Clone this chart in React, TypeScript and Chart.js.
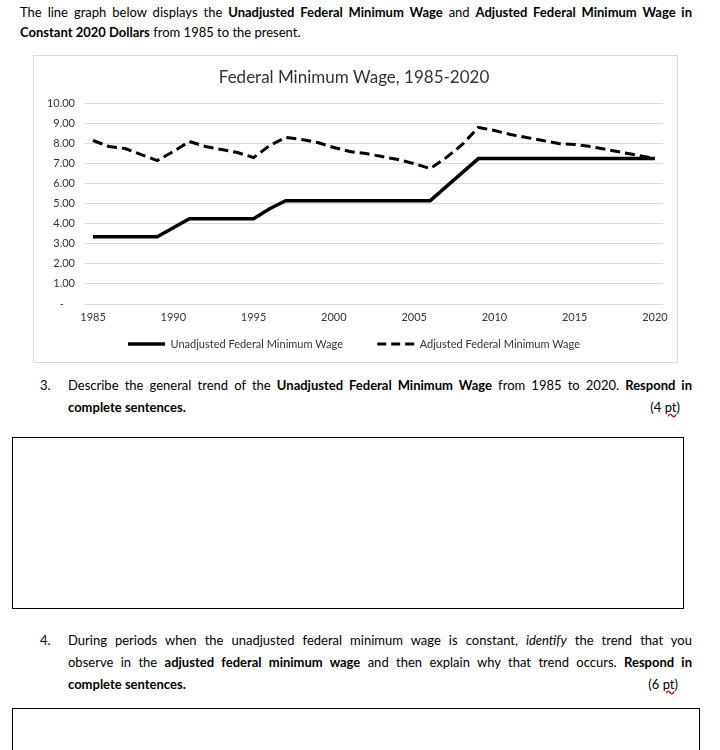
import React, { useEffect, useRef } from "react";
import { Chart, registerables } from "chart.js";

Chart.register(...registerables);

const years = [
  "1985", "1986", "1987", "1988", "1989", "1990", "1991", "1992", "1993",
  "1994", "1995", "1996", "1997", "1998", "1999", "2000", "2001", "2002",
  "2003", "2004", "2005", "2006", "2007", "2008", "2009", "2010", "2011",
  "2012", "2013", "2014", "2015", "2016", "2017", "2018", "2019", "2020",
];

const unadjustedWage = [
  3.35, 3.35, 3.35, 3.35, 3.35, 3.8, 4.25, 4.25, 4.25, 4.25, 4.25, 4.75,
  5.15, 5.15, 5.15, 5.15, 5.15, 5.15, 5.15, 5.15, 5.15, 5.15, 5.85, 6.55,
  7.25, 7.25, 7.25, 7.25, 7.25, 7.25, 7.25, 7.25, 7.25, 7.25, 7.25, 7.25,
];

const adjustedWage = [
  8.15, 7.85, 7.75, 7.45, 7.15, 7.6, 8.1, 7.85, 7.7, 7.55, 7.3, 7.9,
  8.3, 8.2, 8.05, 7.8, 7.6, 7.5, 7.35, 7.2, 7.0, 6.75, 7.3, 7.95,
  8.8, 8.65, 8.45, 8.3, 8.15, 8.0, 7.95, 7.85, 7.7, 7.55, 7.4, 7.25,
];

const labeledYears = ["1985", "1990", "1995", "2000", "2005", "2010", "2015", "2020"];
const seriesNames = ["Unadjusted Federal Minimum Wage", "Adjusted Federal Minimum Wage"];
const chartTitle = "Federal Minimum Wage, 1985-2020";

const textColor = "#333333";

function WageChart() {
  const ref = useRef<HTMLCanvasElement>(null);
  useEffect(() => {
    const font = { family: "Lato", size: 11 };
    const chart = new Chart(ref.current as HTMLCanvasElement, {
      type: "line",
      data: {
        labels: years,
        datasets: [
          {
            label: seriesNames[0],
            data: unadjustedWage,
            borderColor: "#000000",
            backgroundColor: "#000000",
            borderWidth: 3.5,
            pointRadius: 0,
            tension: 0,
            fill: false,
          },
          {
            label: seriesNames[1],
            data: adjustedWage,
            borderColor: "#000000",
            backgroundColor: "#000000",
            borderWidth: 3,
            borderDash: [10, 5],
            pointRadius: 0,
            tension: 0,
            fill: false,
          },
        ],
      },
      options: {
        animation: false,
        responsive: false,
        events: [],
        layout: { padding: { left: 12, right: 15, top: 0, bottom: 3.5 } },
        plugins: {
          title: {
            display: true,
            text: chartTitle,
            color: textColor,
            font: { family: "Lato", size: 17, weight: "normal" },
            padding: { top: 12, bottom: 16 },
          },
          legend: {
            position: "bottom",
            labels: {
              usePointStyle: true,
              pointStyle: "line",
              pointStyleWidth: 37,
              padding: 14.5,
              color: textColor,
              font,
              generateLabels: (c: any) => {
                const items = (Chart as any).defaults.plugins.legend.labels.generateLabels(c);
                items.forEach((it: any, i: number) => {
                  const ds = c.data.datasets[i];
                  it.lineDash = ds.borderDash ? [9, 5] : [];
                  it.lineWidth = ds.borderWidth;
                  it.strokeStyle = "#000000";
                  it.fillStyle = "#000000";
                });
                if (items.length) items[0].text = items[0].text + "       ";
                return items;
              },
            },
          },
          tooltip: { enabled: false },
        },
        scales: {
          x: {
            offset: true,
            grid: { display: false, drawTicks: false },
            border: { display: false },
            ticks: {
              autoSkip: false,
              maxRotation: 0,
              minRotation: 0,
              padding: 7,
              color: textColor,
              font,
              callback: (_v: any, i: number) =>
                labeledYears.includes(years[i]) ? years[i] : "",
            },
            afterFit: (s: any) => {
              s.height = 20;
            },
          },
          y: {
            min: 0,
            max: 10,
            grid: { color: "#d9d9d9", lineWidth: 1, drawTicks: false },
            border: { display: false },
            ticks: {
              stepSize: 1,
              padding: 10,
              color: textColor,
              font,
              callback: (v: any) => (Number(v) === 0 ? "-    " : Number(v).toFixed(2)),
            },
            afterFit: (s: any) => {
              s.width = 40;
            },
          },
        },
      },
    });
    return () => chart.destroy();
  }, []);
  return (
    <canvas
      ref={ref}
      width={645}
      height={308}
      style={{ position: "absolute", left: 33, top: 55, width: 645, height: 308 }}
    />
  );
}

const line: React.CSSProperties = {
  position: "absolute",
  fontSize: 13,
  lineHeight: "20px",
  whiteSpace: "nowrap",
};

export default function App() {
  return (
    <div
      style={{
        position: "absolute",
        left: 0,
        top: 0,
        width: 720,
        height: 750,
        overflow: "hidden",
        background: "#ffffff",
        fontFamily: "Lato, 'Noto Sans', sans-serif",
        color: "#000000",
      }}
    >
      <div style={{ ...line, left: 20, top: 2, width: 672, textAlignLast: "justify" }}>
        The line graph below displays the <b>Unadjusted Federal Minimum Wage</b> and{" "}
        <b>Adjusted Federal Minimum Wage in</b>
      </div>
      <div style={{ ...line, left: 20, top: 22 }}>
        <b>Constant 2020 Dollars</b> from 1985 to the present.
      </div>

      <div
        style={{
          position: "absolute",
          left: 33,
          top: 55,
          width: 645,
          height: 308,
          border: "1px solid #d9d9d9",
          boxSizing: "border-box",
        }}
      />
      <WageChart />

      <div style={{ ...line, left: 40, top: 375 }}>3.</div>
      <div style={{ ...line, left: 68, top: 375, width: 624, textAlignLast: "justify" }}>
        Describe the general trend of the <b>Unadjusted Federal Minimum Wage</b> from 1985 to
        2020. <b>Respond in</b>
      </div>
      <div style={{ ...line, left: 68, top: 397 }}>
        <b>complete sentences.</b>
      </div>
      <div style={{ ...line, left: 600, top: 397, width: 80, textAlign: "right" }}>
        (4 <span style={{ textDecoration: "underline wavy #e00000" }}>pt</span>)
      </div>

      <div
        style={{
          position: "absolute",
          left: 12,
          top: 437,
          width: 672,
          height: 172,
          border: "1px solid #000",
          boxSizing: "border-box",
        }}
      />

      <div style={{ ...line, left: 40, top: 630 }}>4.</div>
      <div style={{ ...line, left: 68, top: 630, width: 624, textAlignLast: "justify" }}>
        During periods when the unadjusted federal minimum wage is constant, <i>identify</i> the
        trend that you
      </div>
      <div style={{ ...line, left: 68, top: 652, width: 624, textAlignLast: "justify" }}>
        observe in the <b>adjusted federal minimum wage</b> and then explain why that trend
        occurs. <b>Respond in</b>
      </div>
      <div style={{ ...line, left: 68, top: 674 }}>
        <b>complete sentences.</b>
      </div>
      <div style={{ ...line, left: 598, top: 674, width: 80, textAlign: "right" }}>
        (6 <span style={{ textDecoration: "underline wavy #e00000" }}>pt</span>)
      </div>

      <div
        style={{
          position: "absolute",
          left: 12,
          top: 708,
          width: 688,
          height: 100,
          border: "1px solid #000",
          boxSizing: "border-box",
        }}
      />
    </div>
  );
}
